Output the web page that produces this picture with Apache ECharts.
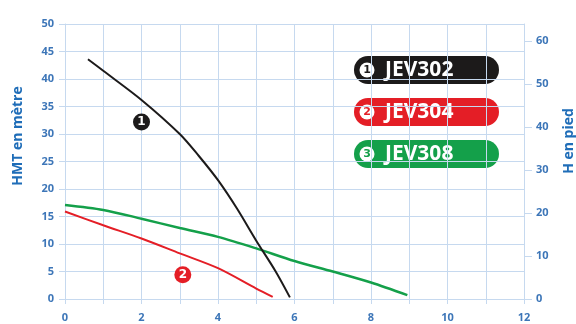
<!DOCTYPE html>
<html>
<head>
<meta charset="utf-8">
<script src="https://cdn.jsdelivr.net/npm/echarts@6/dist/echarts.min.js"></script>
<style>
  html, body { margin: 0; padding: 0; background: #fff; }
  #chart { width: 576px; height: 324px; }
</style>
</head>
<body>
<div id="chart"></div>
<script>
  // débit (m3/h) / hauteur (m)
  const jev302 = [[0.6, 43.6], [1, 41.5], [2, 36.2], [3, 30.0], [3.5, 26.0], [4, 21.6], [4.5, 16.4], [5, 10.6], [5.5, 5.1], [5.88, 0.3]]
  const jev304 = [[0, 15.9], [1, 13.4], [2, 11.0], [3, 8.3], [4, 5.6], [5, 1.9], [5.43, 0.4]]
  const jev308 = [[0, 17.1], [1, 16.2], [2, 14.6], [3, 12.9], [4, 11.3], [5, 9.2], [6, 6.9], [7, 5.0], [8, 3.0], [8.95, 0.7]]
  const seriesNames = ['JEV302', 'JEV304', 'JEV308']
  const seriesNums = ['1', '2', '3']
  const seriesColors = ['#1c1a1a', '#e41e26', '#14a04a']
  // repères numérotés sur les courbes
  const badge302 = [2.0, 32.2]
  const badge304 = [3.08, 4.4]

  const blue = '#3d76b8'
  const gridColor = '#c6d9ef'

  const chart = echarts.init(document.getElementById('chart'))

  const lineSeries = [jev302, jev304, jev308].map((d, i) => ({
    name: seriesNames[i],
    type: 'line',
    data: d,
    smooth: 0.3,
    symbol: 'none',
    lineStyle: { color: seriesColors[i], width: i === 2 ? 2.5 : 2 },
    z: 3 - i
  }))

  function badge (coord, txt, color) {
    return {
      silent: true,
      symbol: 'circle',
      symbolSize: 17,
      itemStyle: { color: color },
      label: { show: true, position: 'inside', formatter: txt, color: '#fff', fontWeight: 'bold', fontSize: 12, fontFamily: 'DejaVu Sans' },
      data: [{ coord: coord }]
    }
  }
  lineSeries[0].markPoint = badge(badge302, '1', seriesColors[0])
  lineSeries[1].markPoint = badge(badge304, '2', seriesColors[1])

  // étiquettes arrondies de la légende
  const pills = seriesNames.map((n, i) => ({
    type: 'group',
    left: 354,
    top: 56 + i * 42,
    children: [
      { type: 'rect', shape: { x: 0, y: 0, width: 145, height: 28, r: 14 }, style: { fill: seriesColors[i] } },
      { type: 'circle', shape: { cx: 13, cy: 14, r: 7.5 }, style: { fill: '#fff' } },
      { type: 'text', x: 13, y: 14.5, style: { text: seriesNums[i], fill: seriesColors[i], font: 'bold 11px "DejaVu Sans", sans-serif', align: 'center', verticalAlign: 'middle' } },
      { type: 'text', x: 31, y: 14, style: { text: n, fill: '#fff', font: 'bold 21px "Open Sans", sans-serif', verticalAlign: 'middle' } }
    ]
  }))

  const option = {
    backgroundColor: '#fff',
    animation: false,
    grid: { left: 65, right: 52, top: 24, bottom: 25 },
    xAxis: {
      type: 'value',
      min: 0,
      max: 12,
      interval: 1,
      axisLine: { show: true, lineStyle: { color: gridColor } },
      axisTick: { show: true, length: 5, lineStyle: { color: gridColor } },
      splitLine: { show: true, lineStyle: { color: gridColor, width: 1 } },
      axisLabel: {
        margin: 13,
        color: blue,
        fontSize: 11,
        fontWeight: 'bold',
        fontFamily: 'Open Sans',
        formatter: v => (v % 2 === 0 ? String(v) : '')
      }
    },
    yAxis: [{
      type: 'value',
      min: 0,
      max: 50,
      interval: 5,
      axisLine: { show: true, lineStyle: { color: gridColor } },
      axisTick: { show: true, length: 6, lineStyle: { color: gridColor } },
      splitLine: { show: true, lineStyle: { color: gridColor, width: 1 } },
      axisLabel: { margin: 11, color: blue, fontSize: 11, fontWeight: 'bold', fontFamily: 'Open Sans' }
    }, {
      type: 'value',
      position: 'right',
      min: 0,
      max: 64,
      interval: 10,
      axisLine: { show: true, lineStyle: { color: gridColor } },
      axisTick: { show: true, length: 8, lineStyle: { color: gridColor } },
      splitLine: { show: false },
      axisLabel: { margin: 12, color: blue, fontSize: 11, fontWeight: 'bold', fontFamily: 'Open Sans', showMaxLabel: false }
    }],
    graphic: [
      { type: 'text', x: 18, y: 136, rotation: Math.PI / 2, style: { text: 'HMT en mètre', fill: '#1f6db8', font: 'bold 14px "Open Sans", sans-serif', align: 'center', verticalAlign: 'middle' } },
      { type: 'text', x: 569, y: 141, rotation: Math.PI / 2, style: { text: 'H en pied', fill: '#1f6db8', font: 'bold 14px "Open Sans", sans-serif', align: 'center', verticalAlign: 'middle' } }
    ].concat(pills),
    series: lineSeries
  }

  chart.setOption(option)
</script>
</body>
</html>
